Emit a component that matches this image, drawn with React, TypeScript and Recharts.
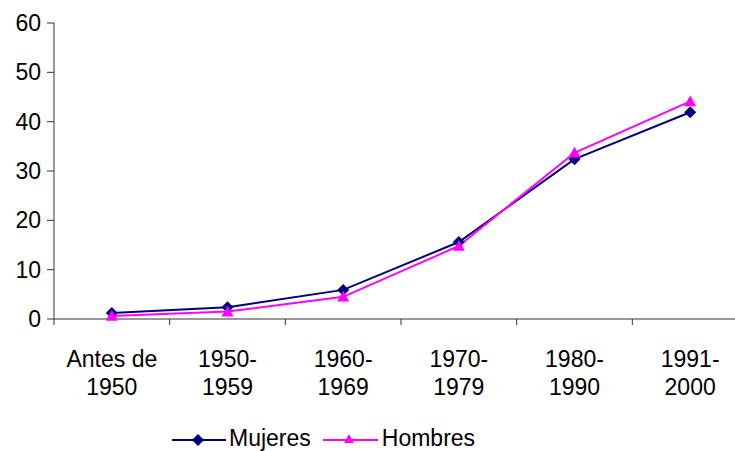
import React from "react";
import { LineChart, Line, XAxis, YAxis } from "recharts";

const categories = [["Antes de", "1950"], ["1950-", "1959"], ["1960-", "1969"], ["1970-", "1979"], ["1980-", "1990"], ["1991-", "2000"]];
const mujeres = [1.2, 2.4, 5.9, 15.6, 32.4, 41.9];
const hombres = [0.6, 1.5, 4.5, 14.8, 33.7, 44.1];
const yTicks = [0, 10, 20, 30, 40, 50, 60];

const NAVY = "#000080";
const MAG = "#FF00FF";
const AXIS = "#333";
const FONT = "'Liberation Sans', Arial, sans-serif";
const FS = 23;

const data = categories.map((c, i) => ({ x: i + 0.5, mujeres: mujeres[i], hombres: hombres[i] }));

const Diamond = (props: any) => {
  const { cx, cy } = props;
  if (cx == null || cy == null) return null;
  const r = 6;
  return <polygon points={`${cx},${cy - r} ${cx + r},${cy} ${cx},${cy + r} ${cx - r},${cy}`} fill={NAVY} />;
};

const Triangle = (props: any) => {
  const { cx, cy } = props;
  if (cx == null || cy == null) return null;
  const r = 6;
  return <polygon points={`${cx},${cy - r} ${cx + r},${cy + r * 0.8} ${cx - r},${cy + r * 0.8}`} fill={MAG} />;
};

const CatTick = (props: any) => {
  const { x, y, payload } = props;
  const idx = Math.round(payload.value - 0.5);
  const lines = categories[idx] || [];
  return (
    <text x={x} y={y} textAnchor="middle" fill="#000" fontSize={FS} fontFamily={FONT}>
      <tspan x={x} dy={34}>{lines[0]}</tspan>
      <tspan x={x} dy={28}>{lines[1]}</tspan>
    </text>
  );
};

const NoLabel = () => <g />;

export default function App() {
  return (
    <div style={{ position: "absolute", left: 0, top: 0, width: 735, height: 451, overflow: "hidden", background: "#fff" }}>
      <LineChart width={760} height={451} data={data} margin={{ top: 23, right: 12, left: 0, bottom: 0 }}>
        <XAxis
          xAxisId="b"
          type="number"
          dataKey="x"
          domain={[0, 6]}
          ticks={[0, 1, 2, 3, 4, 5, 6]}
          tick={<NoLabel />}
          tickSize={6}
          height={6}
          axisLine={{ stroke: AXIS }}
          tickLine={{ stroke: AXIS }}
        />
        <XAxis
          xAxisId="lab"
          type="number"
          dataKey="x"
          domain={[0, 6]}
          ticks={[0.5, 1.5, 2.5, 3.5, 4.5, 5.5]}
          tick={<CatTick />}
          tickLine={false}
          axisLine={false}
          height={126}
        />
        <YAxis
          type="number"
          domain={[0, 60]}
          ticks={yTicks}
          width={54}
          tickSize={7}
          axisLine={{ stroke: AXIS }}
          tickLine={{ stroke: AXIS }}
          tick={{ fill: "#000", fontSize: FS, fontFamily: FONT }}
          tickMargin={6}
        />
        <Line
          xAxisId="b"
          dataKey="mujeres"
          stroke={NAVY}
          strokeWidth={2}
          dot={<Diamond />}
          isAnimationActive={false}
        />
        <Line
          xAxisId="b"
          dataKey="hombres"
          stroke={MAG}
          strokeWidth={2}
          dot={<Triangle />}
          isAnimationActive={false}
        />
      </LineChart>
      <div style={{ position: "absolute", top: 425, left: 172, display: "flex", alignItems: "center", fontFamily: FONT, fontSize: FS, color: "#000", lineHeight: "26px" }}>
        <svg width={54} height={20}>
          <line x1={0} y1={12} x2={54} y2={12} stroke={NAVY} strokeWidth={2} />
          <polygon points="26,6 32,12 26,18 20,12" fill={NAVY} />
        </svg>
        <span style={{ marginLeft: 3, marginRight: 12 }}>Mujeres</span>
        <svg width={55} height={20}>
          <line x1={0} y1={12} x2={55} y2={12} stroke={MAG} strokeWidth={2} />
          <polygon points="26,6 31,15 21,15" fill={MAG} />
        </svg>
        <span style={{ marginLeft: 4 }}>Hombres</span>
      </div>
    </div>
  );
}
